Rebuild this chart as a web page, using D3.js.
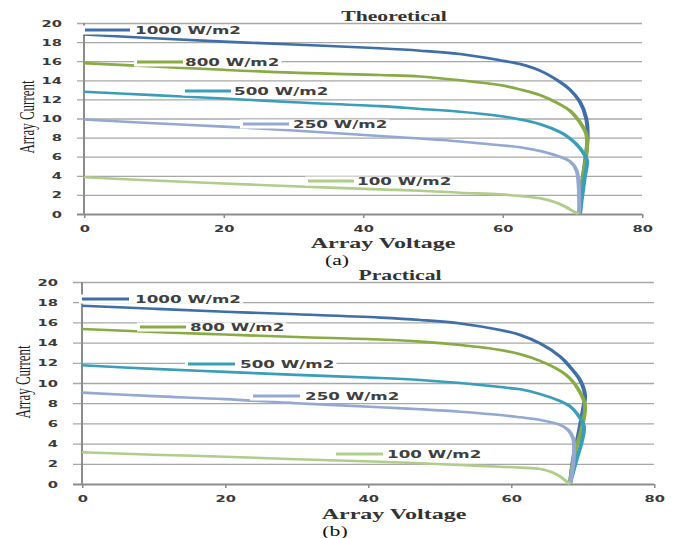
<!DOCTYPE html>
<html>
<head>
<meta charset="utf-8">
<script src="https://cdn.jsdelivr.net/npm/d3@7"></script>
<style>
  body { margin: 0; background: #fff; }
</style>
</head>
<body>
<script>
// source picture is stretched sideways, so draw in a narrower box and stretch it
const K = 1.55;

const levels = ['1000 W/m2', '800 W/m2', '500 W/m2', '250 W/m2', '100 W/m2'];
const colors = ['#3f6ea9', '#89ab43', '#3a9db9', '#93a9d3', '#b0cd8b'];
const xTicks = [0, 20, 40, 60, 80];
const yTicks = [0, 2, 4, 6, 8, 10, 12, 14, 16, 18, 20];

// Theoretical [voltage, current]
const theo1000 = [[0,18.8],[10,18.4],[20,18.05],[30,17.75],[42.4,17.35],[48.2,17.1],[53.9,16.75],[59.6,16.1],[62.5,15.7],[65.4,15.0],[68.2,13.85],[69.7,13.0],[71.1,11.75],[72.0,10.0],[72.2,8.0],[71.8,5.3],[71.35,2.86],[71.1,0]];
const theo800 = [[0,15.8],[10,15.45],[20,15.1],[30,14.8],[42.4,14.55],[48.2,14.4],[53.9,14.0],[59.6,13.5],[62.5,13.05],[65.4,12.45],[68.2,11.5],[69.7,10.8],[71.1,9.6],[72.0,8.4],[72.1,6.8],[71.7,4.6],[71.2,1.8],[71.1,0]];
const theo500 = [[0,12.8],[10,12.45],[20,12.1],[30,11.7],[42.4,11.3],[48.2,11.0],[53.9,10.7],[59.6,10.26],[62.5,9.9],[65.4,9.4],[68.2,8.6],[69.7,7.9],[71.1,6.9],[72.1,5.65],[71.8,3.9],[71.35,1.47],[71.1,0]];
const theo250 = [[0,9.9],[10,9.5],[20,9.15],[30,8.75],[42.4,8.17],[48.2,7.9],[53.9,7.6],[59.6,7.2],[62.5,7.0],[65.4,6.6],[68.2,6.0],[69.7,5.5],[70.6,4.6],[70.9,3.2],[71.0,1.1],[70.95,0]];
const theo100 = [[0,3.85],[10,3.5],[20,3.2],[30,2.9],[42.4,2.58],[48.2,2.44],[53.9,2.23],[59.6,2.06],[62.5,1.88],[65.4,1.64],[67.3,1.29],[69,0.77],[70.2,0.25],[70.9,0]];

// Practical [voltage, current]
const prac1000 = [[0,17.65],[10,17.35],[20,17.06],[30,16.8],[41.7,16.47],[47.3,16.24],[52.9,15.9],[58.5,15.25],[61.3,14.75],[64.1,13.9],[66.9,12.6],[68.25,11.6],[69.65,10.3],[70.35,8.8],[70.1,7.5],[69.4,4.85],[68.7,2.5],[68.25,0]];
const prac800 = [[0,15.35],[10,15.05],[20,14.8],[30,14.55],[41.7,14.3],[47.3,14.1],[52.9,13.76],[58.5,13.27],[61.3,12.84],[64.1,12.18],[66.9,11.2],[68.25,10.46],[69.65,9.1],[70.35,7.8],[69.9,5.5],[68.95,3.2],[68.25,0]];
const prac500 = [[0,11.75],[10,11.4],[20,11.1],[30,10.8],[41.7,10.5],[47.3,10.3],[52.9,10.0],[58.5,9.6],[61.3,9.37],[64.1,8.9],[66.9,8.2],[68.25,7.7],[69.4,6.8],[70.2,5.7],[69.9,4.2],[69.2,2.5],[68.5,0.7],[68.25,0]];
const prac250 = [[0,9.05],[10,8.7],[20,8.4],[30,8.0],[41.7,7.6],[47.3,7.4],[52.9,7.16],[58.5,6.83],[61.3,6.6],[64.1,6.34],[66.9,5.84],[68,5.35],[68.7,4.5],[68.8,2.9],[68.5,0.9],[68.25,0]];
const prac100 = [[0,3.15],[10,2.9],[20,2.7],[30,2.45],[41.7,2.2],[47.3,2.05],[52.9,1.88],[58.5,1.71],[61.3,1.62],[64.1,1.48],[65.5,1.22],[66.9,0.73],[67.8,0.23],[68.25,0]];

const theoSeries = [theo1000, theo800, theo500, theo250, theo100];
const pracSeries = [prac1000, prac800, prac500, prac250, prac100];

const svg = d3.select('body').append('svg')
  .attr('width', 680)
  .attr('height', 538)
  .attr('viewBox', `0 0 ${680 / K} 538`)
  .attr('preserveAspectRatio', 'none');

const serif = "'Liberation Serif', 'Times New Roman', serif";
const sans = "'DejaVu Sans', Verdana, sans-serif";

function drawChart(cfg, series) {
  const x = d3.scaleLinear().domain([0, 80]).range([cfg.x0 / K, cfg.x1 / K]);
  const y = d3.scaleLinear().domain([0, 20]).range([cfg.y0, cfg.y1]);
  const g = svg.append('g');

  // horizontal gridlines + y tick labels
  const yAxis = g.append('g')
    .attr('transform', `translate(${x(80)},0)`)
    .call(d3.axisLeft(y).tickValues(yTicks)
      .tickSize(x(80) - cfg.gridLeft / K)
      .tickPadding(15 / K));
  yAxis.select('.domain').remove();
  yAxis.selectAll('.tick line')
    .attr('stroke', d => d === 0 ? '#8c8c8c' : '#a8a8a8')
    .attr('stroke-width', d => d === 0 ? 1.8 : 1.3);
  yAxis.selectAll('.tick text')
    .attr('font-family', sans).attr('font-size', 9.5).attr('font-weight', 'bold')
    .attr('fill', '#3a3a3a');

  // x ticks
  const xAxis = g.append('g')
    .attr('transform', `translate(0,${y(0)})`)
    .call(d3.axisBottom(x).tickValues(xTicks).tickSize(4).tickSizeOuter(0).tickPadding(7));
  xAxis.select('.domain').remove();
  xAxis.selectAll('.tick line').attr('stroke', '#8c8c8c').attr('stroke-width', 1);
  xAxis.selectAll('.tick text')
    .attr('font-family', sans).attr('font-size', 9.5).attr('font-weight', 'bold')
    .attr('fill', '#3a3a3a');

  // vertical axis line
  g.append('line')
    .attr('x1', x(0)).attr('x2', x(0))
    .attr('y1', y(20)).attr('y2', y(0) + 1)
    .attr('stroke', '#8c8c8c').attr('stroke-width', 1.3);

  // curves
  const line = d3.line()
    .x(d => x(d[0]))
    .y(d => y(d[1]))
    .curve(d3.curveCatmullRom.alpha(0.5));

  g.selectAll('path.curve')
    .data(series)
    .join('path')
      .attr('class', 'curve')
      .attr('fill', 'none')
      .attr('stroke', (d, i) => colors[i])
      .attr('stroke-width', 2.6)
      .attr('d', line);

  // labels (line sample + text on white box)
  cfg.legend.forEach((p, i) => {
    const lg = g.append('g');
    const rect = lg.append('rect').attr('fill', '#fff');
    lg.append('line')
      .attr('x1', p[0] / K).attr('x2', p[1] / K)
      .attr('y1', p[2]).attr('y2', p[2])
      .attr('stroke', colors[i]).attr('stroke-width', 3);
    const t = lg.append('text')
      .attr('x', p[3] / K).attr('y', p[2] + 4)
      .attr('font-family', sans).attr('font-size', 10.8).attr('font-weight', 'bold')
      .attr('fill', '#404040')
      .text(levels[i]);
    const w = t.node().getComputedTextLength();
    rect.attr('x', (p[0] - 3) / K).attr('y', p[2] - 4.5)
      .attr('width', p[3] / K + w + 2 / K - (p[0] - 3) / K).attr('height', 9);
  });

  // titles
  g.append('text')
    .attr('x', cfg.titleX / K).attr('y', cfg.titleY)
    .attr('text-anchor', 'middle')
    .attr('font-family', serif).attr('font-size', 14).attr('font-weight', 'bold')
    .attr('fill', '#333')
    .text(cfg.title);

  g.append('text')
    .attr('x', cfg.xlabX / K).attr('y', cfg.xlabY)
    .attr('text-anchor', 'middle')
    .attr('font-family', serif).attr('font-size', 15.5).attr('font-weight', 'bold')
    .attr('fill', '#333')
    .text('Array Voltage');

  g.append('text')
    .attr('transform', `translate(${cfg.ylabX / K},${cfg.ylabY}) rotate(-90)`)
    .attr('dy', '0.35em')
    .attr('text-anchor', 'middle')
    .attr('font-family', serif).attr('font-size', 13)
    .attr('fill', '#222')
    .text('Array Current');

  g.append('text')
    .attr('x', cfg.capX / K).attr('y', cfg.capY)
    .attr('text-anchor', 'middle')
    .attr('font-family', serif).attr('font-size', 14)
    .attr('fill', '#111')
    .text(cfg.cap);
}

drawChart({
  x0: 84, x1: 642, y0: 214, y1: 23, gridLeft: 77,
  title: 'Theoretical', titleX: 394, titleY: 21,
  xlabX: 383, xlabY: 248.5, ylabX: 27, ylabY: 117,
  cap: '(a)', capX: 337, capY: 265.5,
  legend: [[85, 130, 30, 135], [137, 183, 62, 185], [185, 231, 91, 234], [243, 289, 124, 293], [308, 354, 181, 357]]
}, theoSeries);

drawChart({
  x0: 82, x1: 654, y0: 484, y1: 282, gridLeft: 73,
  title: 'Practical', titleX: 400, titleY: 280,
  xlabX: 394, xlabY: 519, ylabX: 23, ylabY: 382,
  cap: '(b)', capX: 335, capY: 536,
  legend: [[82, 129, 299, 135], [140, 186, 327, 190], [188, 235, 364, 240], [253, 300, 396, 305], [336, 383, 454, 387]]
}, pracSeries);
</script>
</body>
</html>
